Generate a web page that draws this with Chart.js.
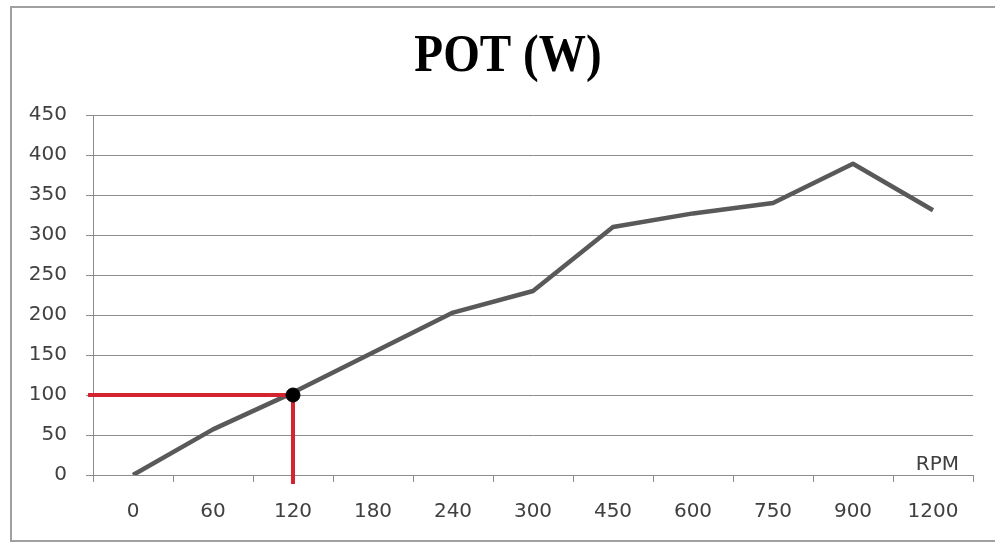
<!DOCTYPE html>
<html>
<head>
<meta charset="utf-8">
<script src="https://cdn.jsdelivr.net/npm/chart.js@4.4.1/dist/chart.umd.min.js"></script>
<style>
  html, body { margin: 0; padding: 0; background: #fff; }
  .frame {
    position: absolute; left: 10px; top: 6px; width: 1000px; height: 532px;
    border-left: 2px solid #a0a0a0; border-top: 2px solid #a0a0a0; border-bottom: 2px solid #a0a0a0;
  }
  #potChart { position: absolute; left: 0; top: 0; }
</style>
</head>
<body>
<div class="frame"></div>
<canvas id="potChart" width="995" height="543"></canvas>
<script>
// datos
const rpm = ["0", "60", "120", "180", "240", "300", "450", "600", "750", "900", "1200"];
const potencia = [0, 57, 103, 153, 203, 230, 310, 327, 340, 389, 331];
const yTicks = [0, 50, 100, 150, 200, 250, 300, 350, 400, 450];
const markRpm = "120";
const markPot = 100;
const titulo = "POT (W)";

const axisFont = { family: "DejaVu Sans", size: 20 };
const gridColor = "#8c8c8c";

// titulo, lineas rojas de lectura y etiqueta RPM
const refLines = {
  id: "refLines",
  afterDatasetDraw(chart, args) {
    if (args.index !== 0) return;
    const ctx = chart.ctx;
    const x = chart.scales.x.getPixelForValue(rpm.indexOf(markRpm));
    const y = chart.scales.y.getPixelForValue(markPot);
    const area = chart.chartArea;
    ctx.save();
    ctx.strokeStyle = "#d42430";
    ctx.lineWidth = 4;
    ctx.beginPath();
    ctx.moveTo(area.left - 5, y);
    ctx.lineTo(x, y);
    ctx.moveTo(x, y);
    ctx.lineTo(x, area.bottom + 9);
    ctx.stroke();
    ctx.restore();
  },
  afterDraw(chart) {
    const ctx = chart.ctx;
    const area = chart.chartArea;
    ctx.save();
    ctx.font = "20px 'DejaVu Sans'";
    ctx.fillStyle = "#404040";
    ctx.textAlign = "right";
    ctx.textBaseline = "alphabetic";
    ctx.fillText("RPM", area.right - 14, area.bottom - 5);

    // titulo algo estrecho, como en la hoja original
    ctx.translate(508, 71);
    ctx.scale(0.89, 1);
    ctx.font = "bold 53px 'Liberation Serif'";
    ctx.fillStyle = "#000";
    ctx.textAlign = "center";
    ctx.fillText(titulo, 0, 0);
    ctx.restore();
  }
};

new Chart(document.getElementById("potChart"), {
  type: "line",
  data: {
    labels: rpm,
    datasets: [
      {
        label: titulo,
        data: potencia,
        borderColor: "#595959",
        borderWidth: 4.5,
        borderJoinStyle: "round",
        pointRadius: 0,
        tension: 0,
        fill: false,
        order: 2
      },
      {
        label: "punto",
        data: rpm.map(r => (r === markRpm ? markPot : null)),
        showLine: false,
        pointRadius: 7,
        pointBackgroundColor: "#000",
        pointBorderColor: "#000",
        order: 1
      }
    ]
  },
  options: {
    responsive: false,
    devicePixelRatio: 1,
    animation: false,
    layout: { padding: { left: 0, right: 22, top: 115, bottom: 0 } },
    plugins: {
      legend: { display: false },
      tooltip: { enabled: false },
      title: { display: false }
    },
    scales: {
      x: {
        offset: true,
        grid: { offset: true, drawOnChartArea: false, drawTicks: true, tickLength: 7, color: gridColor },
        border: { color: gridColor },
        ticks: { color: "#404040", font: axisFont, padding: 18, maxRotation: 0, autoSkip: false },
        afterFit: s => { s.height = 68; }
      },
      y: {
        min: 0,
        max: 450,
        afterBuildTicks: s => { s.ticks = yTicks.map(v => ({ value: v })); },
        grid: { color: gridColor, tickLength: 7 },
        border: { color: gridColor },
        ticks: { color: "#404040", font: axisFont, padding: 19 },
        afterFit: s => { s.width = 93; }
      }
    }
  },
  plugins: [refLines]
});
</script>
</body>
</html>
